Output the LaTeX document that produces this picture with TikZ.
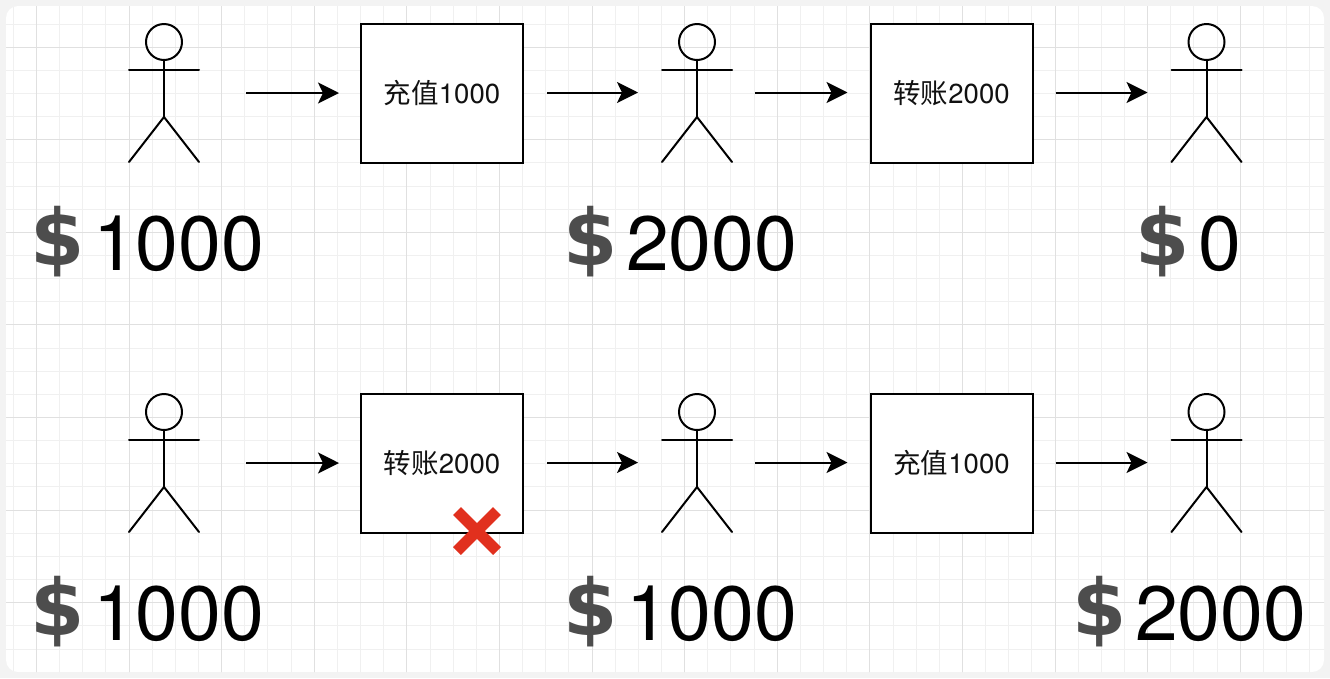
\documentclass[tikz,border=0pt]{standalone}
\usepackage{fontspec}
\setmainfont{TeX Gyre Heros}
\newfontfamily\cjk{Noto Sans CJK SC}
\newfontfamily\dollarfont{DejaVu Sans}
\usetikzlibrary{arrows.meta}
\definecolor{gridminor}{HTML}{F0F0F0}
\definecolor{gridmajor}{HTML}{E0E0E0}
\definecolor{outerbg}{HTML}{F3F3F3}
\definecolor{inkc}{HTML}{111111}
\definecolor{dollarc}{HTML}{4D4D4D}
\definecolor{crossc}{HTML}{E1301E}
\tikzset{
  x=1pt,y=-1pt,
  actorbox/.style={minimum width=70pt,minimum height=138pt,inner sep=0pt,outer sep=0pt},
  actorline/.style={line width=2pt,draw=black,line cap=round,line join=round},
  stepbox/.style={draw=black,line width=2pt,fill=white,minimum width=162pt,minimum height=139pt,inner sep=0pt,outer sep=0pt,text=inkc,font=\fontsize{27.5}{30}\selectfont},
  flow/.style={line width=2pt,draw=black,-{Stealth[length=21pt,width=21pt,inset=5pt]}},
  amount/.style={anchor=base west,inner sep=0pt,outer sep=0pt,font=\fontsize{77}{80}\selectfont,text=black},
  dollar/.style={anchor=base,inner sep=0pt,outer sep=0pt,text=dollarc,font=\fontsize{78}{84}\dollarfont\bfseries},
  crossbar/.style={line width=11pt,draw=crossc},
}
\newcommand{\actorfig}[3]{%
  \node[actorbox] (#1) at (#2,#3) {};
  \draw[actorline] (#1.center) ++(0,-51) circle[radius=18];
  \draw[actorline] (#1.center) ++(0,-33) -- ++(0,57);
  \draw[actorline] (#1.center) ++(-35,-23) -- ++(70,0);
  \draw[actorline] (#1.center) ++(-35,69) -- ++(35,-45) -- ++(35,45);
}
\begin{document}
\begin{tikzpicture}
\useasboundingbox (0,0) rectangle (1330,678);
\fill[outerbg] (0,0) rectangle (1330,678);
\fill[white,rounded corners=12pt] (6,6) rectangle (1324,672);
\begin{scope}
  \clip[rounded corners=12pt] (6,6) rectangle (1324,672);
  \foreach \k in {0,...,57} {
    \pgfmathsetmacro{\gx}{round(36+23.15*(\k-1))+0.5}
    \draw[gridminor,line width=1.6pt] (\gx,0) -- ++(0,678);
  }
  \foreach \k in {0,...,29} {
    \pgfmathsetmacro{\gy}{round(23.5+23.15*(\k-1))+0.5}
    \draw[gridminor,line width=1.6pt] (0,\gy) -- ++(1330,0);
  }
  \foreach \k in {0,...,14} {
    \pgfmathsetmacro{\gx}{round(36+92.6*\k)+0.5}
    \draw[gridmajor,line width=1.6pt] (\gx,0) -- ++(0,678);
  }
  \foreach \k in {0,...,7} {
    \pgfmathsetmacro{\gy}{round(46.5+92.6*\k)+0.5}
    \draw[gridmajor,line width=1.6pt] (0,\gy) -- ++(1330,0);
  }
\end{scope}

% top row
\actorfig{a1}{164}{93}
\node[stepbox] (b1) at (442,93.5) {{\cjk 充值}1000};
\actorfig{a2}{697}{93}
\node[stepbox] (b2) at (951.5,93.5) {{\cjk 转账}2000};
\actorfig{a3}{1206.5}{93}
\draw[flow,shorten <=47pt,shorten >=22pt] (a1.east) -- (a1.east -| b1.west);
\draw[flow,shorten <=24pt,shorten >=24pt] ([yshift=1pt]b1.center -| b1.east) -- ([yshift=1pt]b1.center -| a2.west);
\draw[flow,shorten <=23pt,shorten >=23pt] ([yshift=1pt]b2.center -| a2.east) -- ([yshift=1pt]b2.center -| b2.west);
\draw[flow,shorten <=23pt,shorten >=24pt] ([yshift=1pt]b2.center -| b2.east) -- ([yshift=1pt]b2.center -| a3.west);

\node[dollar] (d1) at (57.5,265) {\$};
\node[amount] (m1) at (93,270) {1000};
\node[dollar] (d2) at (590.5,265) {\$};
\node[amount] (m2) at (626,270) {2000};
\node[dollar] (d3) at (1162.5,265) {\$};
\node[amount] (m3) at (1198,270) {0};

% bottom row
\actorfig{a4}{164}{463}
\node[stepbox] (b3) at (442,463.5) {{\cjk 转账}2000};
\actorfig{a5}{697}{463}
\node[stepbox] (b4) at (951.5,463.5) {{\cjk 充值}1000};
\actorfig{a6}{1206.5}{463}
\draw[flow,shorten <=47pt,shorten >=22pt] (a4.east) -- (a4.east -| b3.west);
\draw[flow,shorten <=24pt,shorten >=24pt] ([yshift=1pt]b3.center -| b3.east) -- ([yshift=1pt]b3.center -| a5.west);
\draw[flow,shorten <=23pt,shorten >=23pt] ([yshift=1pt]b4.center -| a5.east) -- ([yshift=1pt]b4.center -| b4.west);
\draw[flow,shorten <=23pt,shorten >=24pt] ([yshift=1pt]b4.center -| b4.east) -- ([yshift=1pt]b4.center -| a6.west);

\node[dollar] (d4) at (57.5,635) {\$};
\node[amount] (m4) at (93,640) {1000};
\node[dollar] (d5) at (590.5,635) {\$};
\node[amount] (m5) at (626,640) {1000};
\node[dollar] (d6) at (1099.5,635) {\$};
\node[amount] (m6) at (1135,640) {2000};

% red cross
\coordinate (x0) at (477,531);
\draw[crossbar] (x0) ++(-20,-20) -- ++(40,40);
\draw[crossbar] (x0) ++(-20,20) -- ++(40,-40);
\end{tikzpicture}
\end{document}
